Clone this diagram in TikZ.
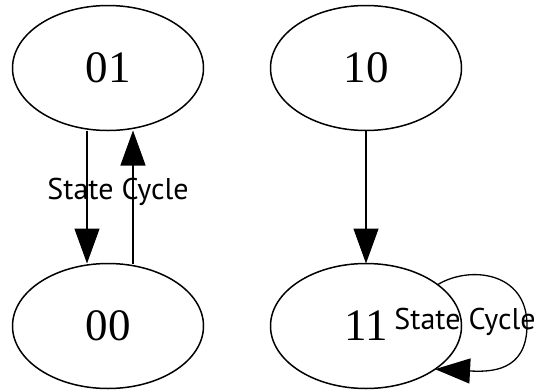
\documentclass[tikz,border=0pt]{standalone}
\usepackage{fontspec}
\setmainfont{Liberation Serif}
\newfontfamily\cyclefont{PT Sans}
\usepackage{tikz}
\usetikzlibrary{arrows.meta,positioning,shapes.geometric}

\begin{document}
\begin{tikzpicture}[x=1pt, y=1pt,
    state/.style={draw, ellipse, line width=1.5pt, inner sep=0pt, outer sep=0pt,
      minimum width=191pt, minimum height=125pt,
      font=\fontsize{45}{45}\selectfont},
    trans/.style={line width=1.3pt, -{Triangle[length=35pt,width=25pt]}},
    lbl/.style={font=\cyclefont\fontsize{30}{30}\selectfont, inner sep=0pt}]
        \useasboundingbox (0,0) rectangle (538,-389);

        % states
        \node[state] (s01) at (108,-68) {01};
        \node[state] (s10) at (366,-68) {10};
        \node[state] (s00) at (108,-326) {00};
        \node[state] (s11) at (366,-326) {11};

        % cycle between 01 and 00
        \draw[trans] ([xshift=-21pt]s01.south) -- ([xshift=-21pt]s00.north);
        \draw[trans] ([xshift=25pt]s00.north) -- ([xshift=25pt]s01.south);
        \node[lbl] (c1) at (118,-192) {State Cycle};

        % 10 goes to 11
        \draw[trans] (s10.south) -- (s11.north);

        % 11 loops on itself
        \draw[trans] (s11.30) .. controls (470,-265) and (527,-272) .. (527,-325)
          .. controls (527,-372) and (490,-372) .. (s11.-32);
        \node[lbl] (c2) at (465,-322) {State Cycle};
\end{tikzpicture}
\end{document}
